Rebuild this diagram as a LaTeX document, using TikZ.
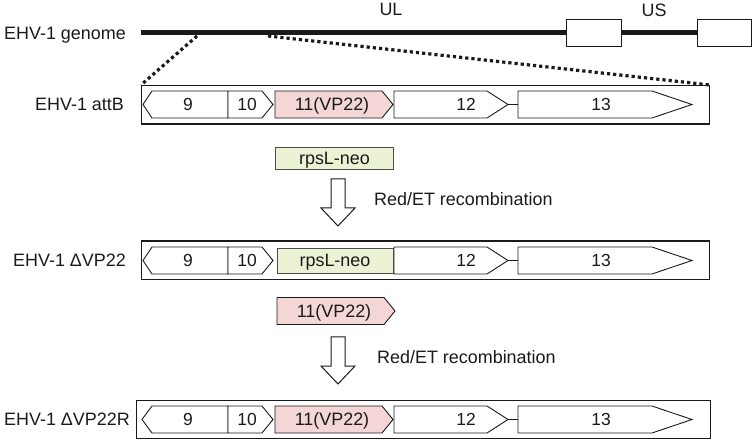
\documentclass[tikz,border=0pt]{standalone}
\usepackage{fontspec}
\setmainfont{Liberation Sans}
\definecolor{vppink}{HTML}{F5D6D6}
\definecolor{neogreen}{HTML}{EBF1D3}
\definecolor{ink}{HTML}{1A1A1A}
\tikzset{
  lbl/.style={font=\fontsize{18}{21}\selectfont, inner sep=0pt, text height=12.9bp, text depth=0pt, text=ink},
  numlbl/.style={font=\fontsize{17.5}{20}\selectfont, inner sep=0pt, text height=12.6bp, text depth=0pt, text=ink},
  gene/.style={draw=ink, line width=0.9bp, fill=white, line join=miter},
  outerbox/.style={draw=ink, line width=1.1bp, inner sep=0pt, minimum height=38.5bp, anchor=north west},
  bigarrow/.style={draw=ink, line width=1bp, fill=white},
  dots/.style={line width=3.2bp, dash pattern=on 3.2bp off 3bp, draw=ink}
}
\newcommand\commongenes[2]{%
  \draw[gene] (#1,0) -- (152,-13.5) -- (228,-13.5) -- (228,13.5) -- (152,13.5) -- cycle;
  \draw[gene] (228,-13.5) -- (262,-13.5) -- (273,0) -- (262,13.5) -- (228,13.5) -- cycle;
  \draw[gene] (394,-13.5) -- (487,-13.5) -- (508,0) -- (487,13.5) -- (394,13.5) -- cycle;
  \coordinate (#2c12) at (508,0);
  \coordinate (#2c13) at (518,0);
  \draw[gene] (#2c12) -- (#2c13);
  \draw[gene] (518,-13.5) -- (652,-13.5) -- (692,0) -- (652,13.5) -- (518,13.5) -- cycle;
  \node[numlbl] (#2g9) at (188,0) {9};
  \node[numlbl] (#2g10) at (247,0) {10};
  \node[numlbl] (#2g12) at (466,0) {12};
  \node[numlbl] (#2g13) at (601,0) {13};
}
\newcommand\vpgene[2]{%
  \draw[gene, fill=vppink] (#1,-13.5) -- ({#1+107},-13.5) -- ({#1+118},0) -- ({#1+107},13.5) -- (#1,13.5) -- cycle;
  \node[lbl] (#2) at ({#1+57},0) {11(VP22)};
}
\begin{document}
\begin{tikzpicture}[x=1bp,y=-1bp]
\useasboundingbox (0,0) rectangle (752,445);

% genome
\node[lbl, anchor=west] (genomelbl) at (4,33) {EHV-1 genome};
\coordinate (gstart) at (141,33);
\coordinate (gend) at (697,33);
\draw[line width=5bp, draw=ink] (gstart) -- (gend);
\node[draw=ink, line width=1bp, fill=white, inner sep=0pt, minimum width=55bp, minimum height=27bp, anchor=north west] (irs) at (566,19.5) {};
\node[draw=ink, line width=1bp, fill=white, inner sep=0pt, minimum width=54bp, minimum height=27bp, anchor=north west] (trs) at (697,19.5) {};
\node[lbl] (UL) at (391,9) {UL};
\node[lbl] (US) at (654,10) {US};
\coordinate (zoomL) at (197,36);
\coordinate (zoomR) at (268,36);

% row 1: attB
\node[lbl, anchor=west] (attBlbl) at (35,104.5) {EHV-1 attB};
\begin{scope}[shift={(0,104.5)}]
  \node[outerbox, minimum width=568bp] (attB) at (141,-19.5) {};
  \commongenes{143}{a}
  \vpgene{275}{avp}
\end{scope}
\draw[dots] (zoomL) -- (attB.north west);
\draw[dots] (zoomR) -- (attB.north east);

% rpsL-neo cassette
\node[draw=black!70, line width=0.9bp, fill=neogreen, inner sep=0pt, minimum width=118bp, minimum height=22bp, anchor=north west] (neo1) at (275,147) {};
\node[lbl] (neo1lbl) at (neo1.center) {rpsL-neo};

% arrow 1
\draw[bigarrow] (331,179) -- (345,179) -- (345,208) -- (355,208) -- (338,226) -- (321,208) -- (331,208) -- cycle;
\node[lbl, anchor=west] (rec1) at (374,199) {Red/ET recombination};

% row 2: delta VP22
\node[lbl, anchor=west] (dlbl) at (13,260.5) {EHV-1 ΔVP22};
\begin{scope}[shift={(0,260.5)}]
  \node[outerbox, minimum width=568bp] (dVP) at (141,-20) {};
  \commongenes{143}{b}
  \node[draw=black!70, line width=0.9bp, fill=neogreen, inner sep=0pt, minimum width=116bp, minimum height=25bp] (neo2) at (335,0) {};
  \node[lbl] (neo2lbl) at (neo2.center) {rpsL-neo};
\end{scope}

% 11(VP22) fragment
\begin{scope}[shift={(0,311)}]
  \vpgene{277}{frag}
\end{scope}

% arrow 2
\draw[bigarrow] (331,337) -- (345,337) -- (345,366) -- (355,366) -- (338,384) -- (321,366) -- (331,366) -- cycle;
\node[lbl, anchor=west] (rec2) at (377,357) {Red/ET recombination};

% row 3: delta VP22R
\node[lbl, anchor=west] (rlbl) at (4,419.5) {EHV-1 ΔVP22R};
\begin{scope}[shift={(0,419.5)}]
  \node[outerbox, minimum width=574bp] (dVPR) at (136,-20) {};
  \commongenes{142}{c}
  \vpgene{275}{cvp}
\end{scope}
\end{tikzpicture}
\end{document}
